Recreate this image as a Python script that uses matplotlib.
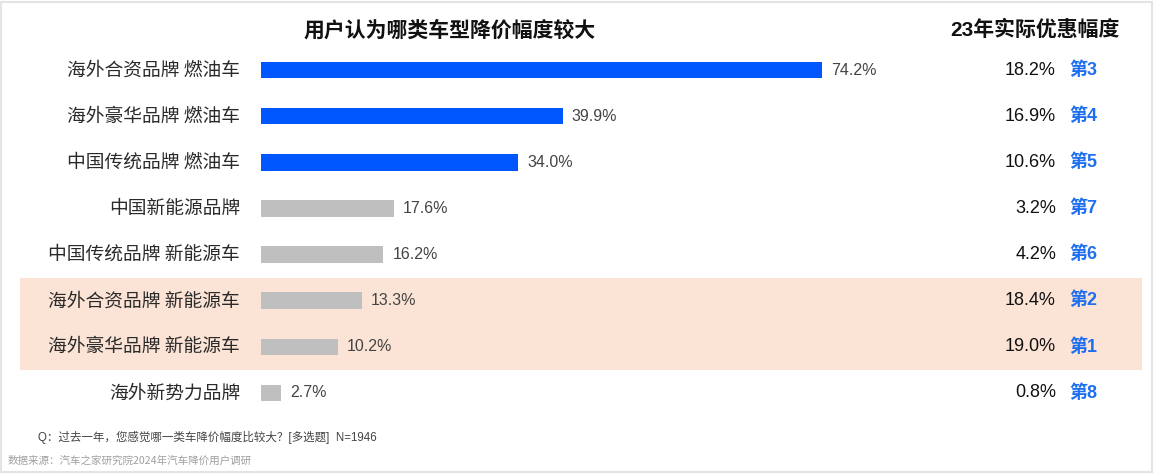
import matplotlib
matplotlib.use("Agg")
import matplotlib.pyplot as plt
from matplotlib.patches import Rectangle
from matplotlib import font_manager

categories = ["海外合资品牌 燃油车", "海外豪华品牌 燃油车", "中国传统品牌 燃油车", "中国新能源品牌",
              "中国传统品牌 新能源车", "海外合资品牌 新能源车", "海外豪华品牌 新能源车", "海外新势力品牌"]
user_pct = [74.2, 39.9, 34.0, 17.6, 16.2, 13.3, 10.2, 2.7]
actual_discount = [18.2, 16.9, 10.6, 3.2, 4.2, 18.4, 19.0, 0.8]
ranks = [3, 4, 5, 7, 6, 2, 1, 8]
highlight_rows = [5, 6]
blue_rows = [0, 1, 2]

title_left = "用户认为哪类车型降价幅度较大"
title_right = "23年实际优惠幅度"
note = "Q：过去一年，您感觉哪一类车降价幅度比较大？[多选题]  N=1946"
source = "数据来源：汽车之家研究院2024年汽车降价用户调研"

names = {f.name for f in font_manager.fontManager.ttflist}
narrow = "Liberation Sans Narrow" if "Liberation Sans Narrow" in names else "Liberation Sans"
CJK = "Noto Sans CJK SC"

W, H = 1155, 475
fig = plt.figure(figsize=(W / 100, H / 100), dpi=100)
fig.patch.set_facecolor("white")

ax_l, ax_r = 261, 1142
ax_t, ax_b = 47, 416
ax = fig.add_axes([ax_l / W, 1 - ax_b / H, (ax_r - ax_l) / W, (ax_b - ax_t) / H])
ppu = 561 / 74.2  # pixels per percent
ax.set_xlim(0, (ax_r - ax_l) / ppu)
ax.set_ylim(len(categories) - 0.5, -0.5)
ax.axis("off")

def px2x(px):
    return (px - ax_l) / ppu

y0 = min(highlight_rows) - 0.5
ax.add_patch(Rectangle((px2x(20), y0), px2x(1142) - px2x(20), len(highlight_rows),
                       facecolor="#FBE4D6", edgecolor="none", clip_on=False, zorder=0))

colors = ["#0057FF" if i in blue_rows else "#BFBFBF" for i in range(len(categories))]
ax.barh(range(len(categories)), user_pct, height=0.36, color=colors, zorder=2)

for i, (cat, v, a, r) in enumerate(zip(categories, user_pct, actual_discount, ranks)):
    ax.text(px2x(240), i, cat, ha="right", va="center", fontsize=13.5,
            family=[CJK], color="#2A2A2A")
    ax.text(v + px2x(270), i, f"{v:.1f}%", ha="left", va="center", fontsize=11.5,
            family=[narrow, "DejaVu Sans"], color="#444444")
    ax.text(px2x(1056), i, f"{a:.1f}%", ha="right", va="center", fontsize=13,
            family=["Liberation Sans", "DejaVu Sans"], color="#111111")
    ax.text(px2x(1069), i, f"第{r}", ha="left", va="center", fontsize=13,
            family=["Liberation Sans", CJK], color="#1E6EF0", fontweight="bold")

fig.text(450 / W, 1 - 30 / H, title_left, ha="center", va="center", fontsize=15,
         family=[CJK], fontweight="bold", color="#111111")
fig.text(1035 / W, 1 - 30 / H, title_right, ha="center", va="center", fontsize=15,
         family=["Liberation Sans", CJK], fontweight="bold", color="#111111")
fig.text(38 / W, 1 - 437 / H, note, ha="left", va="center", fontsize=8.3,
         family=[narrow, CJK], color="#444444")
fig.text(8 / W, 1 - 461 / H, source, ha="left", va="center", fontsize=7.6,
         family=[CJK], color="#A0A0A0")

fig.add_artist(Rectangle((0.5 / W, 3.5 / H), (W - 4) / W, (H - 5) / H, transform=fig.transFigure,
                         facecolor="none", edgecolor="#E4E4E4", linewidth=1.5))

fig.savefig("out.png", dpi=100)
